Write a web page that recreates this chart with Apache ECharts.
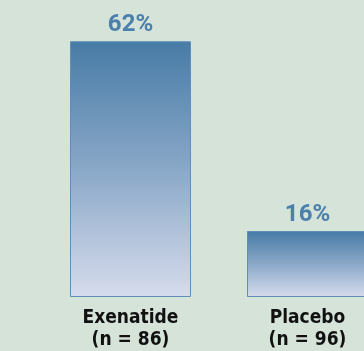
<!DOCTYPE html>
<html>
<head>
<meta charset="utf-8">
<script src="https://cdn.jsdelivr.net/npm/echarts@6/dist/echarts.min.js"></script>
<style>
  html, body { margin: 0; padding: 0; background: #d6e3d9; }
  #chart { width: 364px; height: 351px; }
</style>
</head>
<body>
<div id="chart"></div>
<script>
  // values
  var categories = ['Exenatide\n(n = 86)', 'Placebo\n(n = 96)']
  var percents = [62, 16]

  var chart = echarts.init(document.getElementById('chart'))
  chart.setOption({
    backgroundColor: '#d6e3d9',
    animation: false,
    grid: {
      left: 42,
      width: 354,
      top: 0,
      bottom: 54,
      outerBoundsMode: 'none'
    },
    xAxis: {
      type: 'category',
      data: categories,
      axisLine: { show: false },
      axisTick: { show: false },
      axisLabel: {
        margin: 10,
        color: '#111',
        fontFamily: '"Liberation Sans Narrow", "DejaVu Sans Condensed", sans-serif',
        fontWeight: 'bold',
        fontSize: 19,
        lineHeight: 22
      }
    },
    yAxis: {
      type: 'value',
      min: 0,
      max: 72,
      show: false,
      splitLine: { show: false }
    },
    series: [
      {
        type: 'bar',
        data: percents,
        barWidth: 121,
        itemStyle: {
          borderColor: '#5e8fb7',
          borderWidth: 1,
          color: new echarts.graphic.LinearGradient(0, 0, 0, 1, [
            { offset: 0, color: '#477ba6' },
            { offset: 0.5, color: '#8aa8c8' },
            { offset: 1, color: '#d6dcec' }
          ])
        },
        label: {
          show: true,
          position: 'top',
          distance: 4,
          formatter: '{c}%',
          color: '#4a80ab',
          fontFamily: 'Roboto, sans-serif',
          fontWeight: 'bold',
          fontSize: 24
        }
      }
    ]
  })
</script>
</body>
</html>
